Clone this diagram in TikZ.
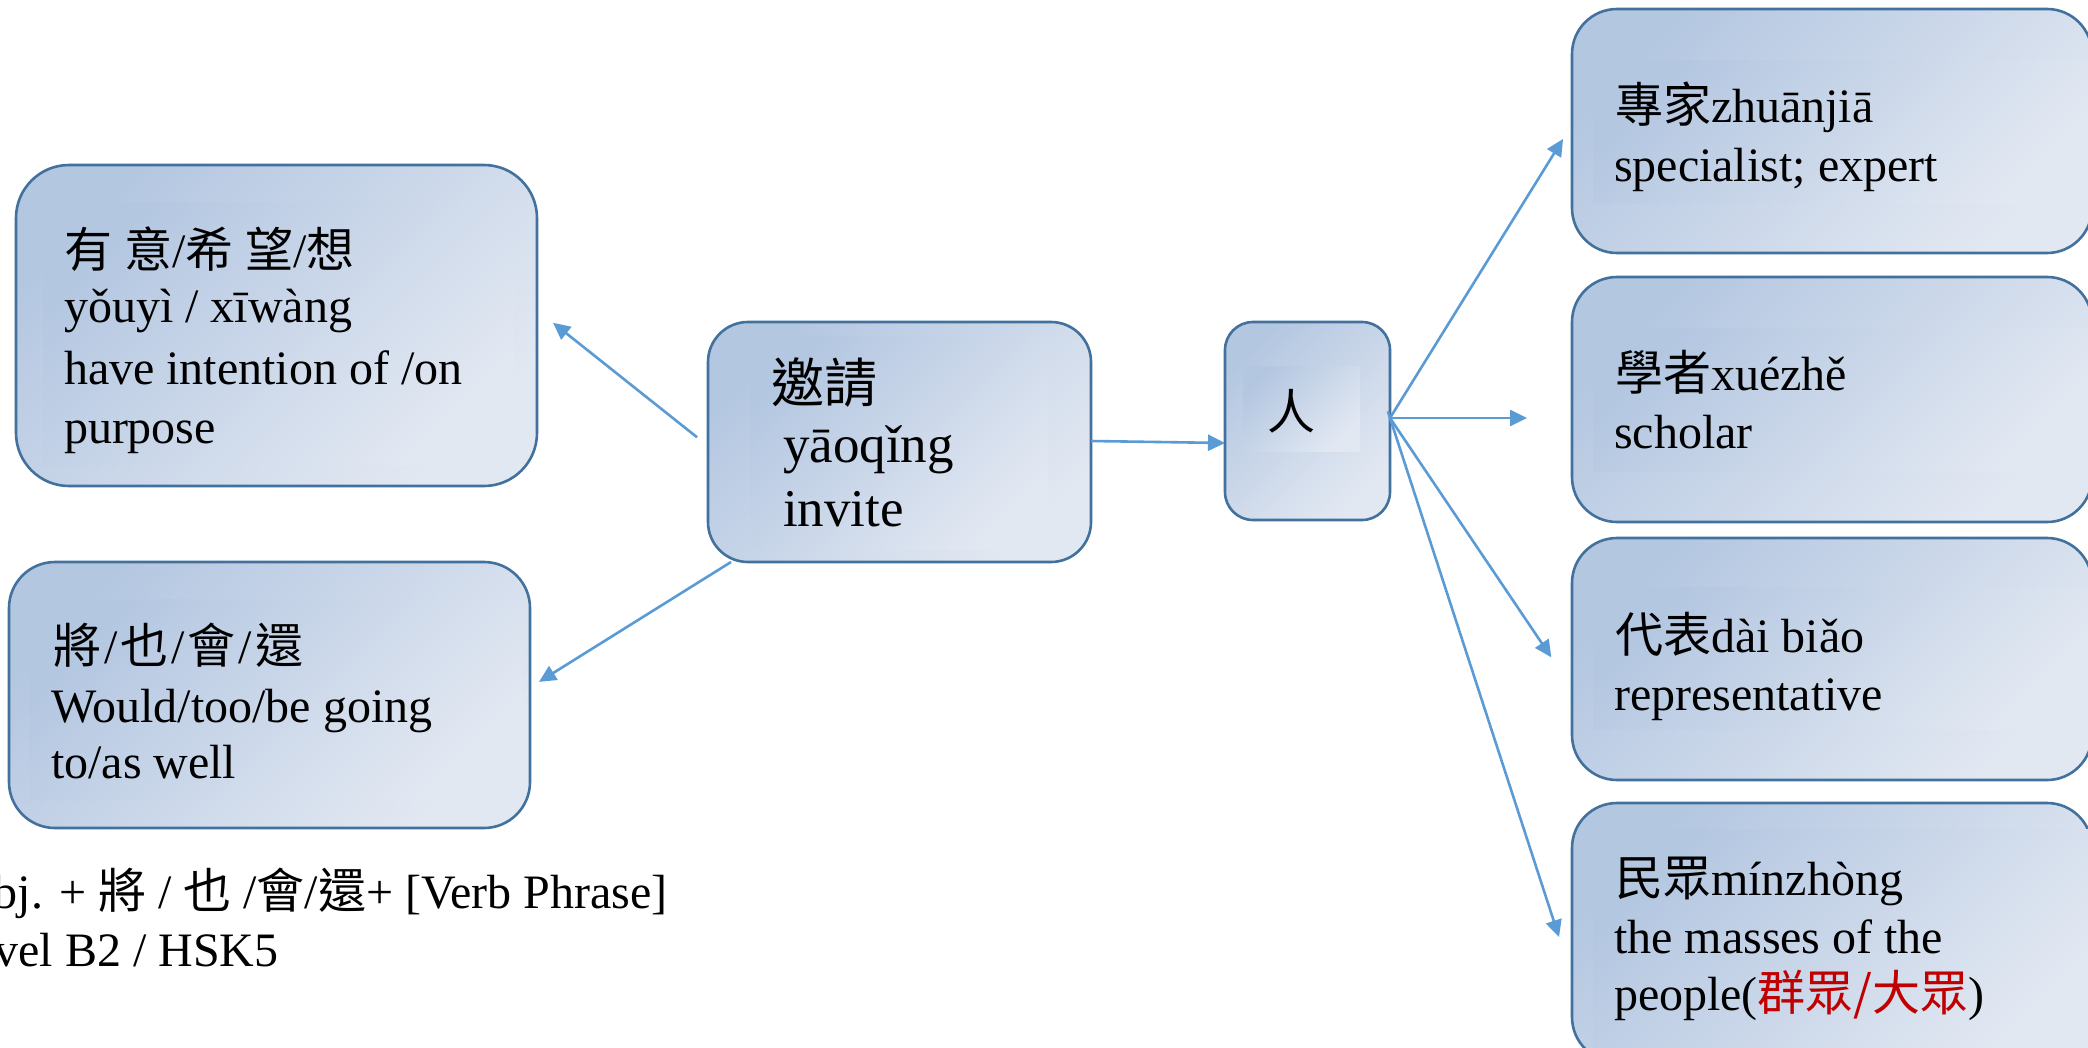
\documentclass[tikz,border=0pt]{standalone}
\usepackage{fontspec}
\setmainfont{Liberation Serif}
\newfontfamily\cjk{Noto Sans CJK TC}
\usetikzlibrary{arrows.meta,calc}
\definecolor{boxdark}{RGB}{180,199,225}
\definecolor{boxlight}{RGB}{226,232,242}
\definecolor{boxline}{RGB}{65,113,156}
\definecolor{arrowblue}{RGB}{91,155,213}
\definecolor{hlred}{RGB}{192,0,0}
\tikzset{
  box/.style={draw=boxline, line width=2.6pt, top color=boxdark, bottom color=boxlight, shading angle=45, inner sep=0pt, outer sep=0pt},
  inbox/.style={top color=boxdark, bottom color=boxlight, shading angle=45},
  txt/.style={font=\fontsize{48}{58}\selectfont, inner sep=0pt, outer sep=0pt, anchor=base west},
  bigtxt/.style={txt, font=\fontsize{53}{62}\selectfont},
  arr/.style={draw=arrowblue, line width=2.6pt, -{Triangle[length=17pt,width=16pt]}},
}
\begin{document}
\begin{tikzpicture}[x=1pt,y=-1pt]
\useasboundingbox (0,0) rectangle (2088,1047);
\clip (0,0) rectangle (2088,1047);
\fill[white] (0,0) rectangle (2088,1047);

% boxes
\node[box, minimum width=521pt, minimum height=321pt, rounded corners=53pt] (A) at (276.5,325.5) {};
\node[box, minimum width=521pt, minimum height=266pt, rounded corners=46pt] (B) at (269.5,695) {};
\node[box, minimum width=383pt, minimum height=240pt, rounded corners=40pt] (C) at (899.5,442) {};
\node[box, minimum width=165pt, minimum height=198pt, rounded corners=28pt] (D) at (1307.5,421) {};
\node[box, minimum width=520pt, minimum height=244pt, rounded corners=45pt] (E) at (1832,131) {};
\node[box, minimum width=520pt, minimum height=245pt, rounded corners=45pt] (F) at (1832,399.5) {};
\node[box, minimum width=520pt, minimum height=242pt, rounded corners=45pt] (G) at (1832,659) {};
\node[box, minimum width=520pt, minimum height=259pt, rounded corners=45pt] (H) at (1832,932.5) {};

% inner text areas
\path[inbox] (43,202) rectangle (514,465);
\path[inbox] (29,599) rectangle (522,800);
\path[inbox] (750,336) rectangle (1048,549);
\path[inbox] (1243,366) rectangle (1360,451);
\path[inbox] (1593,60) rectangle (2090,203);
\path[inbox] (1593,328) rectangle (2090,471);
\path[inbox] (1593,587) rectangle (2090,729);
\path[inbox] (1593,829) rectangle (2090,1060);

% texts
\node[txt] (a1) at (64,267) {{\cjk 有\hspace{12pt}意}/{\cjk 希\hspace{12pt}望}/{\cjk 想}};
\node[txt] (a2) at (64,322) {yǒuyì / xīwàng};
\node[txt] (a3) at (64,384) {have intention of /on};
\node[txt] (a4) at (64,443) {purpose};

\node[txt] (b1) at (53,663) {{\cjk 將}\hspace{3pt}/\hspace{3pt}{\cjk 也}\hspace{3pt}/\hspace{3pt}{\cjk 會}\hspace{3pt}/\hspace{3pt}{\cjk 還}};
\node[txt] (b2) at (51,722) {Would/too/be going};
\node[txt] (b3) at (51,778) {to/as well};

\node[bigtxt] (c1) at (771,402) {{\cjk 邀請}};
\node[bigtxt] (c2) at (783,462) {yāoqǐng};
\node[bigtxt] (c3) at (783,526) {invite};

\node[txt, anchor=base] (d1) at (1291,429) {{\cjk 人}};

\node[txt] (e1) at (1615,122) {{\cjk 專家}zhuānjiā};
\node[txt] (e2) at (1614,181) {specialist; expert};

\node[txt] (f1) at (1615,390) {{\cjk 學者}xuézhě};
\node[txt] (f2) at (1614,448) {scholar};

\node[txt] (g1) at (1615,652) {{\cjk 代表}dài biǎo};
\node[txt] (g2) at (1614,710) {representative};

\node[txt] (h1) at (1615,895) {{\cjk 民眾}mínzhòng};
\node[txt] (h2) at (1614,953) {the masses of the};
\node[txt] (h3) at (1614,1010) {people({\color{hlred}\cjk 群眾/大眾})};

\node[txt] (s1) at (-57,908) {Subj. + {\cjk 將} / {\cjk 也} /{\cjk 會}/{\cjk 還}+ [Verb Phrase]};
\node[txt] (s2) at (-56,966) {Level B2 / HSK5};

% connectors
\coordinate (hub) at ([yshift=3pt]D.east);
\draw[arr, shorten <=14pt, shorten >=20.5pt] ([yshift=-4pt]C.west) -- ([yshift=15.5pt]A.east);
\draw[arr, shorten >=10.6pt] ([xshift=23pt]C.south west) -- ([yshift=7.5pt]B.east);
\draw[arr] ([yshift=1pt]C.east) -- ([yshift=-22pt]D.west);
\draw[arr, shorten >=17pt] (hub) -- ([yshift=6.5pt]E.west);
\draw[arr, shorten >=45pt] (hub) -- (hub -| F.west);
\draw[arr, shorten >=37pt] (hub) -- ([yshift=-29pt]G.west);
\draw[arr, shorten <=-7pt, shorten >=42pt] (hub) -- ([yshift=-44.5pt]H.west);
\end{tikzpicture}
\end{document}
